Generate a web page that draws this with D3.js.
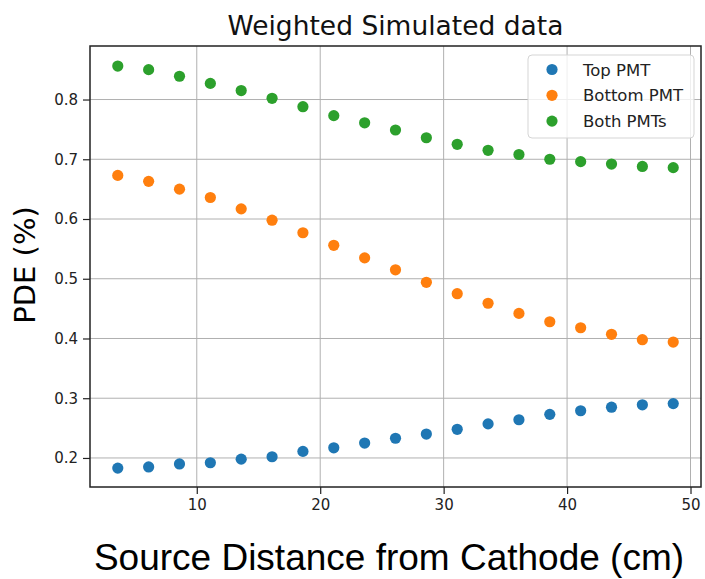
<!DOCTYPE html>
<html>
<head>
<meta charset="utf-8">
<script src="https://cdn.jsdelivr.net/npm/d3@7"></script>
<style>
  body { margin: 0; background: #fff; }
  svg { display: block; }
  .tick text { font-family: "DejaVu Sans", sans-serif; font-size: 15px; fill: #222; }
  .grid line { stroke: #b0b0b0; stroke-width: 1; }
</style>
</head>
<body>
<script>
// source distance from cathode (cm)
var distance = [3.6, 6.1, 8.6, 11.1, 13.6, 16.1, 18.6, 21.1, 23.6, 26.1,
                28.6, 31.1, 33.6, 36.1, 38.6, 41.1, 43.6, 46.1, 48.6];

// PDE values
var topPMT = [0.183, 0.185, 0.190, 0.192, 0.198, 0.202, 0.211, 0.217, 0.225, 0.233,
              0.240, 0.248, 0.257, 0.264, 0.273, 0.279, 0.285, 0.289, 0.291];
var bottomPMT = [0.673, 0.663, 0.650, 0.636, 0.617, 0.598, 0.577, 0.556, 0.535, 0.515,
                 0.494, 0.475, 0.459, 0.442, 0.428, 0.418, 0.407, 0.398, 0.394];
var bothPMTs = [0.856, 0.850, 0.839, 0.827, 0.815, 0.802, 0.788, 0.773, 0.761, 0.749,
                0.736, 0.725, 0.715, 0.708, 0.700, 0.696, 0.692, 0.688, 0.686];

var seriesNames = ["Top PMT", "Bottom PMT", "Both PMTs"];
var seriesColors = ["#1f77b4", "#ff7f0e", "#2ca02c"];

var xTicks = [10, 20, 30, 40, 50];
var yTicks = [0.2, 0.3, 0.4, 0.5, 0.6, 0.7, 0.8];

var w = 705, h = 579;
// plot box edges
var pL = 90, pR = 701, pT = 46, pB = 487;

var svg = d3.select("body").append("svg")
    .attr("width", w)
    .attr("height", h);

var x = d3.scaleLinear()
    .domain([1.35, 50.85])
    .range([pL, pR]);

var y = d3.scaleLinear()
    .domain([0.1514, 0.8896])
    .range([pB, pT]);

// gridlines
svg.append("g")
    .attr("class", "grid")
    .selectAll("line")
    .data(xTicks)
    .enter().append("line")
    .attr("x1", function(d){ return x(d); })
    .attr("x2", function(d){ return x(d); })
    .attr("y1", pT)
    .attr("y2", pB);

svg.append("g")
    .attr("class", "grid")
    .selectAll("line")
    .data(yTicks)
    .enter().append("line")
    .attr("x1", pL)
    .attr("x2", pR)
    .attr("y1", function(d){ return y(d); })
    .attr("y2", function(d){ return y(d); });

// points
var series = [topPMT, bottomPMT, bothPMTs];
series.forEach(function(vals, k){
    svg.append("g")
        .selectAll("circle")
        .data(vals)
        .enter().append("circle")
        .attr("cx", function(d, i){ return x(distance[i]); })
        .attr("cy", function(d){ return y(d); })
        .attr("r", 5.6)
        .style("fill", seriesColors[k]);
});

// axes
var xAxis = svg.append("g")
    .attr("transform", "translate(0," + pB + ")")
    .call(d3.axisBottom(x).tickValues(xTicks).tickFormat(d3.format("d")).tickSize(7).tickPadding(5));

var yAxis = svg.append("g")
    .attr("transform", "translate(" + pL + ",0)")
    .call(d3.axisLeft(y).tickValues(yTicks).tickFormat(d3.format(".1f")).tickSize(7).tickPadding(5));

[xAxis, yAxis].forEach(function(a){
    a.select(".domain").remove();
    a.selectAll(".tick line").attr("stroke", "#222").attr("stroke-width", 1.2);
});

// frame
svg.append("rect")
    .attr("x", pL)
    .attr("y", pT)
    .attr("width", pR - pL)
    .attr("height", pB - pT)
    .style("fill", "none")
    .style("stroke", "#222")
    .style("stroke-width", 1.5);

// title
svg.append("text")
    .attr("x", (pL + pR) / 2)
    .attr("y", 35)
    .attr("text-anchor", "middle")
    .style("font-family", "DejaVu Sans, sans-serif")
    .style("font-size", "26.5px")
    .style("fill", "#111")
    .text("Weighted Simulated data");

// y label
svg.append("text")
    .attr("transform", "translate(35,265) rotate(-90)")
    .attr("text-anchor", "middle")
    .style("font-family", "DejaVu Sans, sans-serif")
    .style("font-size", "29px")
    .style("fill", "#000")
    .text("PDE (%)");

// x label
svg.append("text")
    .attr("x", 389)
    .attr("y", 570)
    .attr("text-anchor", "middle")
    .style("font-family", "Liberation Sans, Arial, sans-serif")
    .style("font-size", "37px")
    .style("fill", "#000")
    .text("Source Distance from Cathode (cm)");

// legend
var legend = svg.append("g");
legend.append("rect")
    .attr("x", 528)
    .attr("y", 55)
    .attr("width", 166)
    .attr("height", 83)
    .attr("rx", 4)
    .style("fill", "rgba(255,255,255,0.8)")
    .style("stroke", "#d5d5d5")
    .style("stroke-width", 1);

var items = legend.selectAll("g.item")
    .data(seriesNames)
    .enter().append("g")
    .attr("class", "item")
    .attr("transform", function(d, i){ return "translate(0," + (69.5 + i * 25.8) + ")"; });

items.append("circle")
    .attr("cx", 552)
    .attr("cy", 0)
    .attr("r", 5.6)
    .style("fill", function(d, i){ return seriesColors[i]; });

items.append("text")
    .attr("x", 583)
    .attr("y", 6)
    .style("font-family", "DejaVu Sans, sans-serif")
    .style("font-size", "16.5px")
    .style("fill", "#222")
    .text(function(d){ return d; });
</script>
</body>
</html>
